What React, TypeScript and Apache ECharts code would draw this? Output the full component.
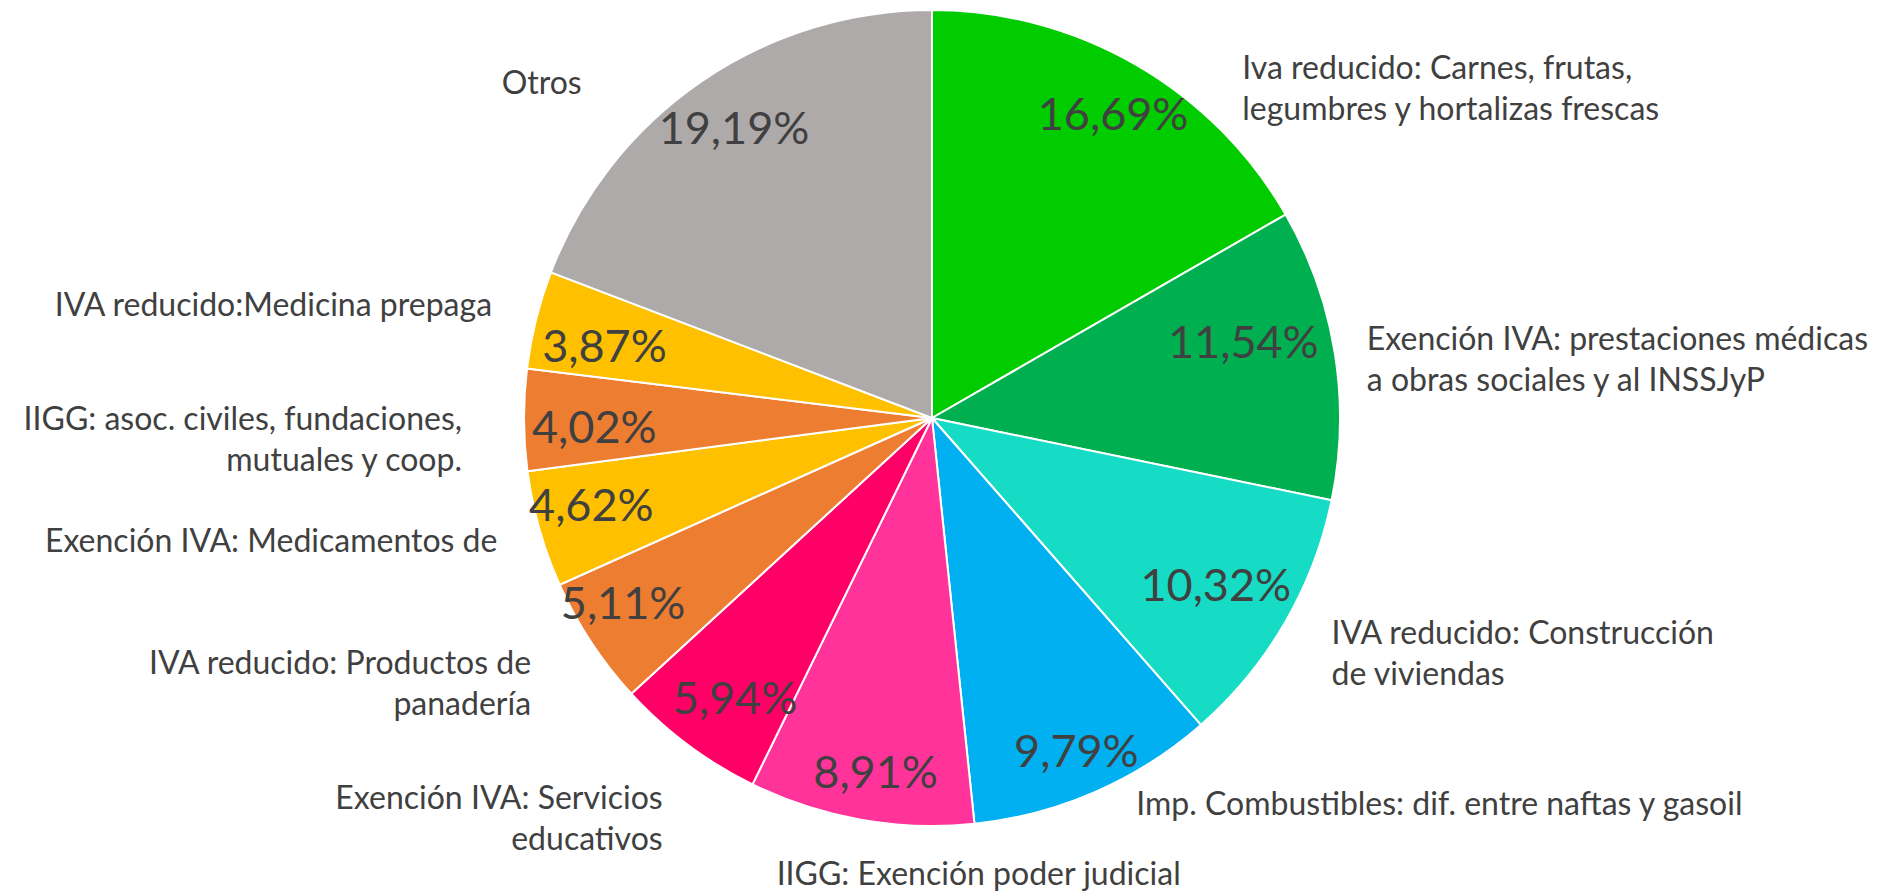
import React, { useEffect, useRef } from "react";
import * as echarts from "echarts";

const categories: string[] = [
  "Iva reducido: Carnes, frutas,\nlegumbres y hortalizas frescas",
  "Exención IVA: prestaciones médicas\na obras sociales y al INSSJyP",
  "IVA reducido: Construcción\nde viviendas",
  "Imp. Combustibles: dif. entre naftas y gasoil",
  "IIGG: Exención poder judicial",
  "Exención IVA: Servicios\neducativos",
  "IVA reducido: Productos de\npanadería",
  "Exención IVA: Medicamentos de",
  "IIGG: asoc. civiles, fundaciones,\nmutuales y coop.",
  "IVA reducido:Medicina prepaga",
  "Otros",
];

const shares: number[] = [16.69, 11.54, 10.32, 9.79, 8.91, 5.94, 5.11, 4.62, 4.02, 3.87, 19.19];

const sliceColors: string[] = [
  "#00CC00",
  "#00B050",
  "#17DCC5",
  "#00B0F0",
  "#FF3399",
  "#FF0066",
  "#ED7D31",
  "#FFC000",
  "#ED7D31",
  "#FFC000",
  "#AEAAAA",
];

// label nudges (styling only), px offsets from ECharts' outside label anchor
const labelNudges: [number, number][] = [
  [70, 22],
  [-4, 5],
  [11, 29],
  [5, 11],
  [356, 53],
  [11, 72],
  [-24, 40],
  [-6, 10],
  [-26, 18],
  [-8, -16],
  [-83, 0],
];

// percentage label nudges (styling only)
const pctNudges: [number, number][] = [
  [8, -6],
  [-30, -22],
  [-15, -8],
  [6, 15],
  [4, 13],
  [10, 2],
  [-20, -6],
  [-8, -8],
  [8, 6],
  [8, 10],
  [-2, -6],
];

const FONT = "Lato, 'Open Sans', sans-serif";

export default function App() {
  const ref = useRef<HTMLDivElement>(null);

  useEffect(() => {
    document.body.style.margin = "0";
    if (!ref.current) return;
    const chart = echarts.init(ref.current, null, { renderer: "svg" });
    const center = [932, 418];
    const R = 408;

    const data = categories.map((name, i) => ({
      name,
      value: shares[i],
      itemStyle: { color: sliceColors[i] },
    }));

    chart.setOption({
      animation: false,
      backgroundColor: "#ffffff",
      series: [
        {
          type: "pie",
          center,
          radius: [0, R],
          startAngle: 90,
          clockwise: true,
          avoidLabelOverlap: false,
          itemStyle: { borderColor: "#ffffff", borderWidth: 2 },
          label: {
            show: true,
            position: "outside",
            formatter: "{b}",
            color: "#404040",
            fontFamily: FONT,
            fontSize: 32,
            lineHeight: 41,
          },
          labelLine: { show: false, length: 0, length2: 31 },
          labelLayout: (p: any) => {
            const n = labelNudges[p.dataIndex] || [0, 0];
            return { dx: n[0], dy: n[1] };
          },
          emphasis: { disabled: true },
          data,
        },
        {
          type: "pie",
          center,
          radius: [R * 0.68, R],
          startAngle: 90,
          clockwise: true,
          silent: true,
          avoidLabelOverlap: false,
          itemStyle: { color: "transparent", borderWidth: 0 },
          label: {
            show: true,
            position: "inside",
            formatter: (p: any) => p.value.toFixed(2).replace(".", ",") + "%",
            color: "#404040",
            fontFamily: FONT,
            fontSize: 45,
          },
          labelLine: { show: false },
          labelLayout: (p: any) => {
            const n = pctNudges[p.dataIndex] || [0, 0];
            return { dx: n[0], dy: n[1] };
          },
          emphasis: { disabled: true },
          data: categories.map((name, i) => ({ name, value: shares[i] })),
        },
      ],
    });

    return () => chart.dispose();
  }, []);

  return <div ref={ref} style={{ width: "1881px", height: "891px" }} />;
}
